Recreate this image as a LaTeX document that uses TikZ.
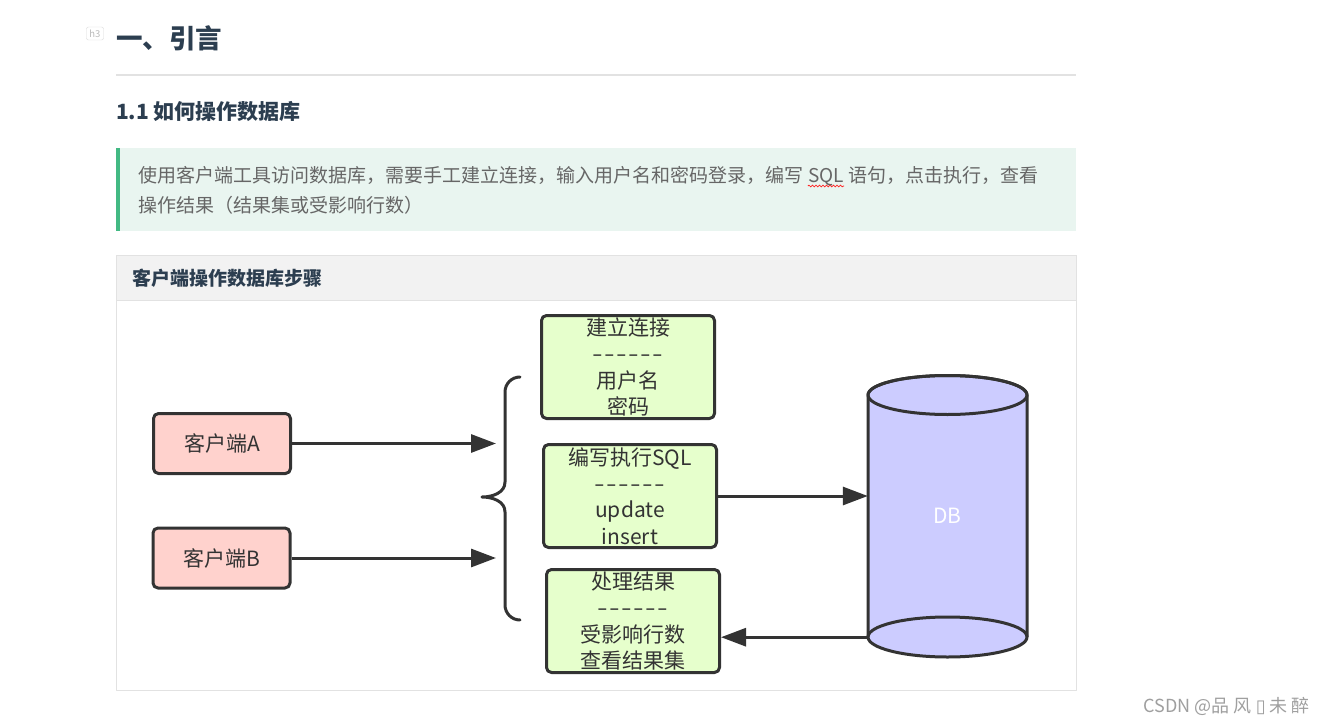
\documentclass[tikz,border=0pt]{standalone}
\usepackage{fontspec}
\setmainfont{Noto Sans CJK SC}
\newfontfamily\symfont{DejaVu Sans}
\usetikzlibrary{arrows.meta,positioning,decorations.pathmorphing}
\definecolor{ink}{HTML}{333333}
\definecolor{headblue}{HTML}{2C3E50}
\definecolor{quotebg}{HTML}{E9F5F0}
\definecolor{quotebar}{HTML}{42B983}
\definecolor{quotetext}{HTML}{666666}
\definecolor{panelbg}{HTML}{F2F2F2}
\definecolor{panelline}{HTML}{E2E2E2}
\definecolor{clientred}{HTML}{FFD2CD}
\definecolor{stepgreen}{HTML}{E6FFCC}
\definecolor{dbblue}{HTML}{CCCCFF}
\newcommand{\dashrow}{{\addfontfeature{FakeStretch=1.45}-\hspace{1.5pt}-\hspace{1.5pt}-\hspace{1.5pt}-\hspace{1.5pt}-\hspace{1.5pt}-}}
\begin{document}
\begin{tikzpicture}[x=1pt, y=-1pt, line join=round,
	hd/.style={anchor=west, inner sep=0, text=headblue, font=\bfseries\fontsize{26.5}{30}\selectfont},
	qtext/.style={inner sep=0, text=quotetext, font=\fontsize{19}{24}\selectfont},
	cli/.style={draw=ink, line width=3pt, rounded corners=5pt, fill=clientred, minimum width=137pt, minimum height=60pt, inner sep=0, text=ink, font=\fontsize{21}{26}\selectfont},
	stepbox/.style={draw=ink, line width=3pt, rounded corners=5pt, fill=stepgreen, minimum width=173pt, minimum height=103pt, inner sep=0, align=center, text=ink, font=\fontsize{21}{26.3}\selectfont},
	flow/.style={draw=ink, line width=3pt, -{Triangle[length=25pt, width=18pt]}}]
	\useasboundingbox[fill=white] (0,0) rectangle (1325,725);

	\node[draw=gray!30, rounded corners=2pt, minimum width=17pt, minimum height=13pt, inner sep=0, text=gray!55, font=\fontsize{9.5}{10}\selectfont] (tag) at (95,33.5) {h3};
	\node[hd] (h1) at (116,38) {一、引言};
	\draw[panelline, line width=2pt] (116,75) -- (1076,75);
	\node[hd, font=\bfseries\fontsize{21}{26}\selectfont] (h2) at (116,112) {1.1 如何操作数据库};

	\fill[quotebg] (116,148) rectangle (1076,231);
	\fill[quotebar] (116,148) rectangle (120,231);
	\node[qtext, anchor=base west] (q1) at (138,182) {使用客户端工具访问数据库，需要手工建立连接，输入用户名和密码登录，编写};
	\node[qtext, base right=4.5pt of q1] (sql) {SQL};
	\node[qtext, base right=4.5pt of sql] (q2) {语句，点击执行，查看};
	\draw[red!85, line width=0.8pt, decorate, decoration={snake, amplitude=0.9pt, segment length=3.5pt}] ([yshift=-4pt]sql.base west) -- ([yshift=-4pt]sql.base east);
	\node[qtext, anchor=base west] (q3) at (138,212) {操作结果（结果集或受影响行数）};

	\draw[panelline, fill=white] (116,255) rectangle (1076,690);
	\draw[panelline, fill=panelbg] (116,255) rectangle (1076,300);
	\node[hd, font=\bfseries\fontsize{19}{24}\selectfont] (title) at (132,278) {客户端操作数据库步骤};

	\node[cli] (ca) at (222,443.5) {客户端A};
	\node[cli] (cb) at (221.5,558) {客户端B};
	\node[stepbox] (conn) at (628,367) {建立连接\\\dashrow\\用户名\\密码};
	\node[stepbox] (exec) at (630,496) {编写执行SQL\\\dashrow\\update\\insert};
	\node[stepbox] (res) at (633,621) {处理结果\\\dashrow\\受影响行数\\查看结果集};

	\coordinate (brc) at (482,497); \coordinate (into) at (496,497);
	\draw[ink, line width=3pt, line cap=round] (520,377) to[out=180, in=90] (505,392) -- (505,482) to[out=270, in=0] (brc) to[out=0, in=90] (505,512) -- (505,605) to[out=270, in=180] (520,620);

	\coordinate (dbtop) at (947.5,395); \coordinate (dbbot) at (947.5,637);
	\filldraw[draw=ink, fill=dbblue, line width=3pt] ([xshift=-79.5pt]dbtop) -- ([xshift=-79.5pt]dbbot) arc[start angle=180, end angle=360, x radius=79.5pt, y radius=20pt] -- ([xshift=79.5pt]dbtop) arc[start angle=0, end angle=180, x radius=79.5pt, y radius=19.5pt] -- cycle;
	\draw[ink, line width=3pt] (dbtop) ellipse[x radius=79.5pt, y radius=19.5pt];
	\draw[ink, line width=3pt] ([xshift=79.5pt]dbbot) arc[start angle=0, end angle=180, x radius=79.5pt, y radius=20pt];
	\node[minimum width=159pt, minimum height=242pt, inner sep=0, text=white, font=\fontsize{21}{26}\selectfont] (db) at (947.5,516) {DB};

	\draw[flow] (ca.east) -- (ca.east -| into);
	\draw[flow] (cb.east) -- (cb.east -| into);
	\draw[flow] (exec.east) -- (exec.east -| db.west);
	\draw[flow] (db.south west) -- (db.south west -| res.east);

	\node[anchor=east, inner sep=0, text=gray!75, font=\fontsize{18}{22}\selectfont] (mark) at (1310,706) {CSDN @品 风 {\symfont ▯} 未 醉};
\end{tikzpicture}
\end{document}
